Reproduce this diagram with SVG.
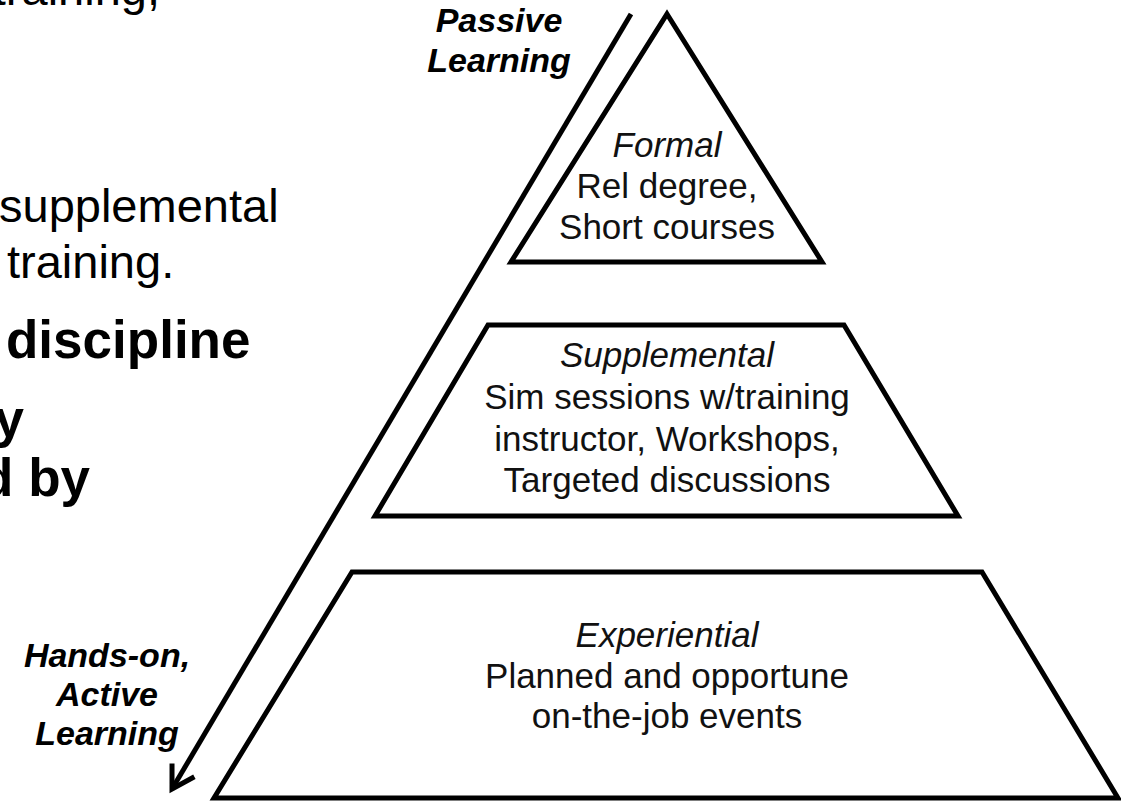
<svg xmlns="http://www.w3.org/2000/svg" width="1121" height="802" viewBox="0 0 1121 802">
  <defs>
    <style>
      .tier { fill: #ffffff; stroke: #000000; stroke-width: 5; stroke-linejoin: miter; stroke-miterlimit: 10; }
      .ttl { font-family: "Liberation Sans", Arial, sans-serif; font-size: 35px; font-style: italic; fill: #111111; text-anchor: middle; }
      .txt { font-family: "Liberation Sans", Arial, sans-serif; font-size: 35px; fill: #111111; text-anchor: middle; }
      .axis { font-family: "Liberation Sans", Arial, sans-serif; font-size: 34px; font-style: italic; font-weight: bold; fill: #000000; text-anchor: middle; }
      .slide { font-family: "Liberation Sans", Arial, sans-serif; font-size: 47px; fill: #000000; }
      .slideb { font-family: "Liberation Sans", Arial, sans-serif; font-size: 53px; font-weight: bold; fill: #000000; }
      .conn { fill: none; stroke: #000000; stroke-width: 5; }
    </style>
    <marker id="openArrow" markerUnits="userSpaceOnUse" markerWidth="40" markerHeight="40" viewBox="-30 -20 40 40" refX="0" refY="0" orient="auto">
      <path d="M -22,-13 L 0,0 L -22,13" fill="none" stroke="#000000" stroke-width="5" stroke-linejoin="miter"/>
    </marker>
  </defs>
  <rect width="1121" height="802" fill="#ffffff"/>

  <g id="slide-text">
    <text class="slide" x="160" y="5" text-anchor="end">training,</text>
    <text class="slide" x="-1" y="222">supplemental</text>
    <text class="slide" x="7" y="278">training.</text>
    <text class="slideb" x="6" y="358">discipline</text>
    <text class="slideb" x="24" y="437" text-anchor="end">y</text>
    <text class="slideb" x="90" y="496" text-anchor="end">d by</text>
  </g>

  <g id="connectors">
    <line class="conn" x1="631" y1="14" x2="172" y2="789" marker-end="url(#openArrow)"/>
  </g>

  <g id="label-passive">
    <text class="axis" x="499" y="32">Passive</text>
    <text class="axis" x="499" y="72">Learning</text>
  </g>

  <g id="label-active">
    <text class="axis" x="107" y="667">Hands-on,</text>
    <text class="axis" x="107" y="706">Active</text>
    <text class="axis" x="107" y="745">Learning</text>
  </g>

  <g id="formal">
    <polygon class="tier" points="667,14 822,262 511,262"/>
    <text class="ttl" x="667" y="157">Formal</text>
    <text class="txt" x="667" y="198">Rel degree,</text>
    <text class="txt" x="667" y="239">Short courses</text>
  </g>

  <g id="supplemental">
    <polygon class="tier" points="488,325 844,325 958,516 375,516"/>
    <text class="ttl" x="667" y="367">Supplemental</text>
    <text class="txt" x="667" y="409">Sim sessions w/training</text>
    <text class="txt" x="667" y="451">instructor, Workshops,</text>
    <text class="txt" x="667" y="492">Targeted discussions</text>
  </g>

  <g id="experiential">
    <polygon class="tier" points="352,572 982,572 1118,798 214,798"/>
    <text class="ttl" x="667" y="647">Experiential</text>
    <text class="txt" x="667" y="688">Planned and opportune</text>
    <text class="txt" x="667" y="728">on-the-job events</text>
  </g>
</svg>
